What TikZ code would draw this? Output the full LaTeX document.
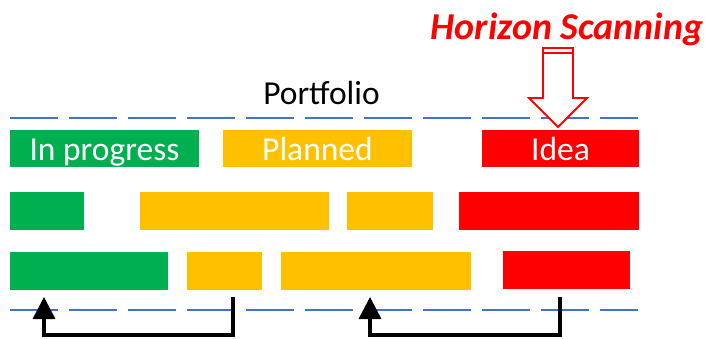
\documentclass[tikz,border=0pt]{standalone}
\usepackage{fontspec}
\setmainfont{Carlito}
\usetikzlibrary{arrows.meta}
\definecolor{pgreen}{HTML}{00B050}
\definecolor{pyellow}{HTML}{FFC000}
\definecolor{pred}{HTML}{FF0000}
\definecolor{pblue}{HTML}{4472C4}
\tikzset{
  bar/.style={inner sep=0pt, outer sep=0pt, draw=none},
  lbl/.style={inner sep=0pt, anchor=base, text=white, font=\fontsize{33.5}{40}\selectfont},
  dashline/.style={draw=pblue, line width=1.8pt, dash pattern=on 48pt off 11pt},
  conn/.style={draw=black, line width=3.5pt, line join=miter, -{Triangle[width=22pt,length=22pt]}},
}
\begin{document}
\begin{tikzpicture}[x=1pt,y=-1pt]
\useasboundingbox (0,0) rectangle (707,338);
% dashed lines
\draw[dashline] (10,118) -- (638,118);
\draw[dashline] (10,310) -- (638,310);
% row 1
\node[bar, fill=pgreen, minimum width=189, minimum height=37] (ip) at (104.5,148.5) {};
\node[bar, fill=pyellow, minimum width=189, minimum height=37] (pl) at (317.5,148.5) {};
\node[bar, fill=pred, minimum width=157, minimum height=37] (id) at (560.5,148.5) {};
\node[lbl] (ipt) at (104.5,160) {In progress};
\node[lbl] (plt) at (317.5,160) {Planned};
\node[lbl] (idt) at (560.5,160) {Idea};
% row 2
\node[bar, fill=pgreen, minimum width=74, minimum height=38] (g2) at (47,211) {};
\node[bar, fill=pyellow, minimum width=189, minimum height=38] (y2a) at (234.5,211) {};
\node[bar, fill=pyellow, minimum width=86, minimum height=38] (y2b) at (390,211) {};
\node[bar, fill=pred, minimum width=180, minimum height=38] (r2) at (549,211) {};
% row 3
\node[bar, fill=pgreen, minimum width=158, minimum height=38] (g3) at (89,271) {};
\node[bar, fill=pyellow, minimum width=75, minimum height=38] (y3a) at (224.5,271) {};
\node[bar, fill=pyellow, minimum width=190, minimum height=38] (y3b) at (376,271) {};
\node[bar, fill=pred, minimum width=127, minimum height=38] (r3) at (566.5,270) {};
% titles
\node[inner sep=0pt, anchor=base, font=\fontsize{33.5}{40}\selectfont] (pf) at (321.5,104.3) {Portfolio};
\node[inner sep=0pt, anchor=base, text=pred, font=\fontsize{38}{44}\selectfont\bfseries\itshape] (hs) at (567,39) {Horizon Scanning};
% block arrow
\draw[pred, line width=1.8pt, fill=white, line join=miter]
  (543,48) -- (573,48) -- (573,98) -- (587,98) -- (558,127) -- (529,98) -- (543,98) -- cycle;
\draw[pred, line width=1.5pt] (543,53) -- (573,53);
% connectors
\coordinate (s1) at (233,297);
\coordinate (c1) at (233,335);
\coordinate (e1) at (44,297);
\coordinate (s2) at (560,297);
\coordinate (c2) at (560,335);
\coordinate (e2) at (370,297);
\draw[conn] (s1) -- (c1) -| (e1);
\draw[conn] (s2) -- (c2) -| (e2);
\end{tikzpicture}
\end{document}
